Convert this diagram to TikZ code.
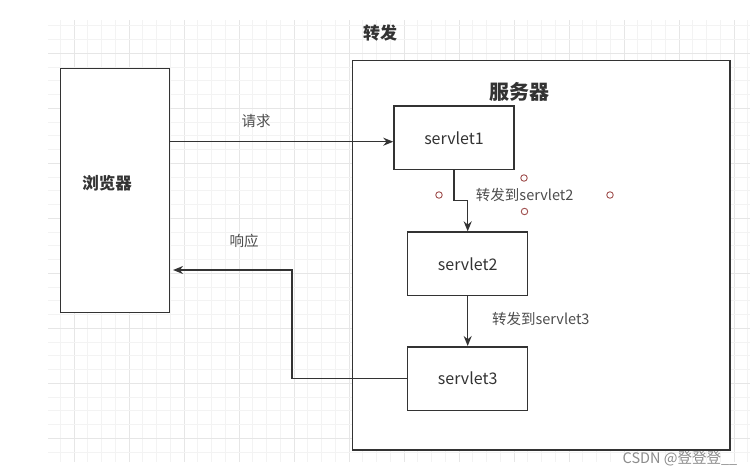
\documentclass[tikz,border=0pt]{standalone}
\usepackage{fontspec}
\setmainfont{Noto Sans CJK SC}
\usepackage{tikz}
\usetikzlibrary{arrows.meta}
\definecolor{linegray}{HTML}{333333}
\definecolor{textgray}{HTML}{4D4D4D}
\definecolor{gridminor}{HTML}{F3F3F3}
\definecolor{gridmajor}{HTML}{E6E6E6}
\definecolor{handlered}{HTML}{A0504F}
\definecolor{markgray}{HTML}{8C8C8C}

\begin{document}
\begin{tikzpicture}[x=1pt, y=-1pt,
    box/.style={draw=linegray, fill=white, line width=1.5pt, inner sep=0pt},
    servletbox/.style={box, minimum width=120pt, minimum height=63.5pt, text=linegray, font=\fontsize{16}{18}\selectfont},
    flow/.style={draw=linegray, line width=1.5pt, -{Stealth[length=10pt,width=8pt]}},
    lbl/.style={text=textgray, font=\fontsize{14.5}{16}\selectfont},
    title/.style={text=linegray, font=\fontsize{#1}{#1}\selectfont\bfseries},
    handle/.style={circle, draw=handlered, line width=0.9pt, inner sep=0pt, minimum size=6.5pt}]
	\useasboundingbox (0,0) rectangle (753,476);
	% background grid
	\begin{scope}
		\clip (48,20) rectangle (750,462);
		\foreach \i in {0,...,51}{
			\pgfmathsetmacro{\gx}{46.5+13.75*\i}
			\pgfmathtruncatemacro{\ismaj}{mod(\i+2,4)==0}
			\ifnum\ismaj=1
				\draw[gridmajor, line width=0.8pt] (\gx,20) -- (\gx,462);
			\else
				\draw[gridminor, line width=0.8pt] (\gx,20) -- (\gx,462);
			\fi
		}
		\foreach \j in {-3,...,30}{
			\pgfmathsetmacro{\gy}{53.3+13.75*\j}
			\pgfmathtruncatemacro{\ismaj}{mod(\j+40,4)==0}
			\ifnum\ismaj=1
				\draw[gridmajor, line width=0.8pt] (48,\gy) -- (750,\gy);
			\else
				\draw[gridminor, line width=0.8pt] (48,\gy) -- (750,\gy);
			\fi
		}
	\end{scope}

	\node[title=17] (fwd) at (380,33) {转发};
	\node[box, minimum width=377.3pt, minimum height=389.7pt] (server) at (541.35,255.15) {};
	\node[title=20] (servername) at (519,92) {服务器};
	\node[box, minimum width=109pt, minimum height=244.4pt] (browser) at (114.8,190.5) {};
	\node[title=16.5] (browsername) at (107,183) {浏览器};

	\node[servletbox] (s1) at (454,138) {servlet1};
	\node[servletbox] (s2) at (467.7,263.85) {servlet2};
	\node[servletbox] (s3) at (467.7,378.5) {servlet3};

	% request / forward / response
	\coordinate (reqstart) at (169.3,141.7);
	\draw[flow] (reqstart) -- (s1.west |- reqstart);
	\node[lbl] (req) at (256,121) {请求};

	\coordinate (bend) at (467.7,200.7);
	\draw[flow] (s1.south) |- (bend) -- (s2.north);
	\node[lbl] (fwd2) at (524.7,195) {转发到servlet2};
	\node[handle] (ha) at (439,195) {};
	\node[handle] (hb) at (524,178) {};
	\node[handle] (hc) at (610,195) {};
	\node[handle] (hd) at (524.5,211.5) {};

	\draw[flow] (s2.south) -- (s3.north);
	\node[lbl] (fwd3) at (540.8,319) {转发到servlet3};

	\coordinate (back) at (292,270);
	\draw[flow, shorten >=3pt] (s3.west) -| (back) -- (browser.east |- back);
	\node[lbl] (resp) at (244,241) {响应};

	\node[text=markgray, font=\fontsize{14.5}{16}\selectfont] (mark) at (680,459) {CSDN @登登登\_\_};
\end{tikzpicture}
\end{document}
